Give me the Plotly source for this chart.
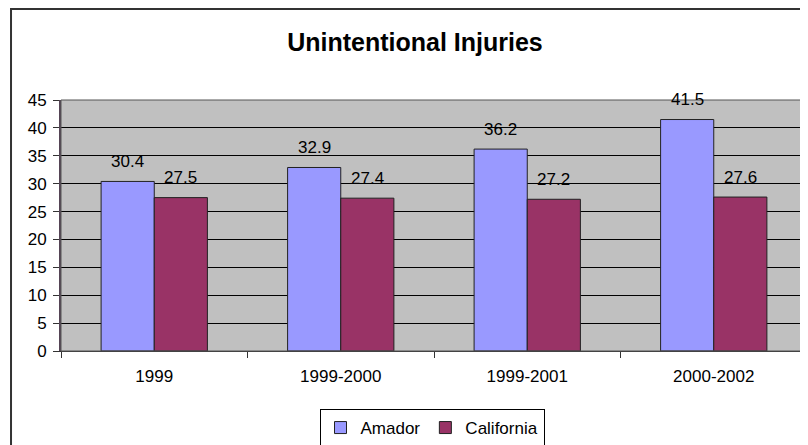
import plotly.graph_objects as go

# dados do gráfico
periodos = ["1999", "1999-2000", "1999-2001", "2000-2002"]
amador = [30.4, 32.9, 36.2, 41.5]
california = [27.5, 27.4, 27.2, 27.6]

fonte = "Liberation Sans, Arial, sans-serif"
gap = 0.43

# a página tem margem de 8px no body: figura 800x437 para caber na janela 808x445
fig = go.Figure()
fig.add_trace(go.Bar(name="Amador", x=periodos, y=amador,
                     marker=dict(color="#9999FF", line=dict(color="#222222", width=1))))
fig.add_trace(go.Bar(name="California", x=periodos, y=california,
                     marker=dict(color="#993366", line=dict(color="#222222", width=1))))

# rótulos de valor acima das barras
meia = (1 - gap) / 4
for i, p in enumerate(periodos):
    for dx, v in ((-meia, amador[i]), (meia, california[i])):
        fig.add_annotation(x=i + dx, y=v, xref="x", yref="y", text=f"{v}",
                           showarrow=False, yshift=20, yanchor="middle",
                           font=dict(size=17, color="black", family=fonte))

# borda externa do gráfico
fig.add_shape(type="rect", xref="paper", yref="paper",
              x0=-0.067, x1=1.05, y0=-0.5, y1=1.3625,
              line=dict(color="#333333", width=2), layer="below")

fig.update_layout(
    width=800, height=437,
    margin=dict(l=53, r=1, t=92, b=94),
    paper_bgcolor="white", plot_bgcolor="#C0C0C0",
    barmode="group", bargap=gap, bargroupgap=0,
    font=dict(family=fonte, size=17, color="black"),
    title=dict(text="<b>Unintentional Injuries</b>", x=407 / 800, xanchor="center",
               y=1 - 34 / 437, yanchor="middle", yref="container",
               font=dict(size=25, family=fonte, color="black")),
    legend=dict(orientation="h", x=424 / 800, xanchor="center", xref="container",
                y=1 - 420 / 437, yanchor="middle", yref="container",
                bordercolor="black", borderwidth=1, bgcolor="white",
                font=dict(size=17), itemwidth=30, tracegroupgap=0),
    showlegend=True,
)

fig.update_xaxes(showgrid=False, showline=True, linecolor="#333333", linewidth=1,
                 ticks="outside", tickson="boundaries", ticklen=6, tickcolor="#333333",
                 ticklabelstandoff=10, mirror=False)
fig.update_yaxes(range=[0, 45], dtick=5, showgrid=True, gridcolor="black", gridwidth=1,
                 showline=True, linecolor="#554455", linewidth=2, ticks="outside",
                 ticklen=6, tickcolor="#333333", ticklabelstandoff=3, zeroline=False)

# borda direita e superior da área de plotagem
fig.add_shape(type="rect", xref="paper", yref="paper", x0=0, x1=1, y0=0, y1=1,
              line=dict(color="#555555", width=1))

fig.write_html("out.html")
